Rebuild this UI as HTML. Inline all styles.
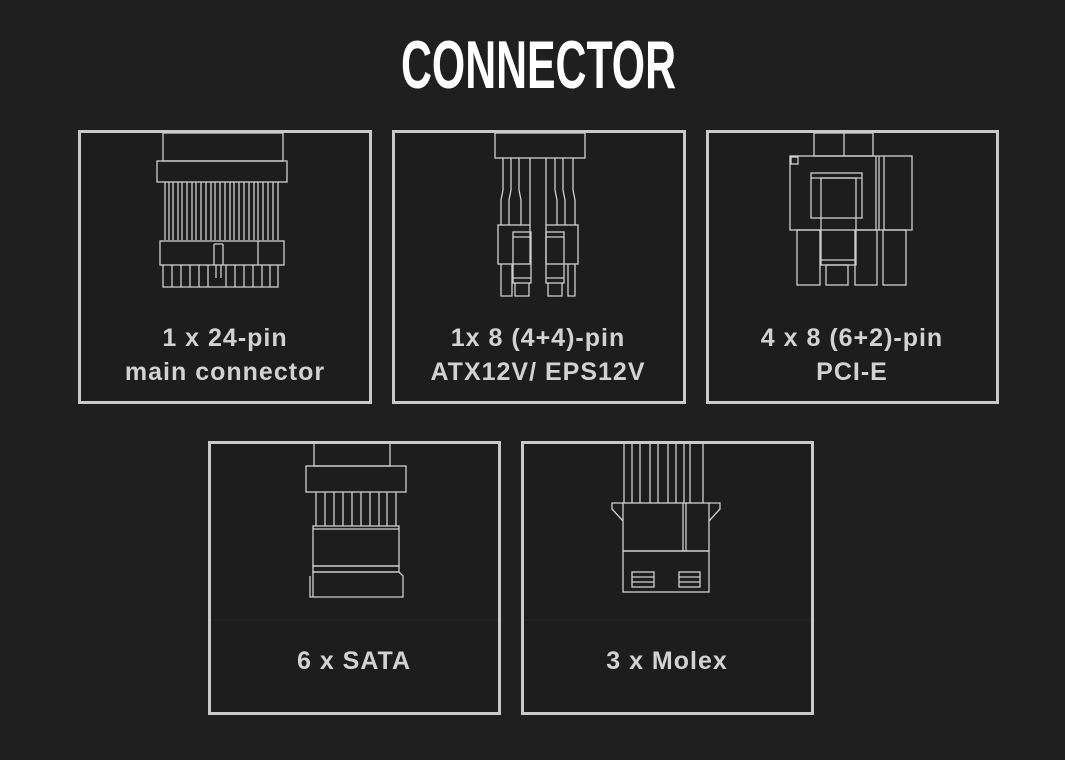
<!DOCTYPE html>
<html><head><meta charset="utf-8"><style>
html,body{margin:0;padding:0;background:#1f1f1f;}
svg{display:block;}
.b{fill:#1d1d1d;stroke:#c9c9c9;stroke-width:3;}
.d{fill:none;stroke:#cfcfcf;stroke-width:1.3;}
.l{font-family:"Liberation Sans",sans-serif;font-weight:bold;font-size:25px;letter-spacing:1px;fill:#d2d2d2;text-anchor:middle;}
</style></head><body>
<svg width="1065" height="760" viewBox="0 0 1065 760" xmlns="http://www.w3.org/2000/svg">
<rect width="1065" height="760" fill="#1f1f1f"/>
<text x="401" y="88" textLength="275" lengthAdjust="spacingAndGlyphs" font-family="Liberation Sans Narrow, Liberation Sans, sans-serif" font-weight="bold" font-size="68" fill="#fff">CONNECTOR</text>

<rect class="b" x="79.5" y="131.5" width="291" height="271"/>
<rect class="b" x="393.5" y="131.5" width="291" height="271"/>
<rect class="b" x="707.5" y="131.5" width="290" height="271"/>
<rect class="b" x="209.5" y="442.5" width="290" height="271"/>
<rect class="b" x="522.5" y="442.5" width="290" height="271"/>
<line x1="211" y1="620" x2="498" y2="620" stroke="#262626"/>
<line x1="524" y1="620" x2="811" y2="620" stroke="#262626"/>

<!-- 24 pin -->
<g class="d">
<rect x="163" y="133" width="120" height="28"/>
<rect x="157" y="161" width="130" height="21"/>
<path d="M165 182V240M169 182V240M173 182V240M178 182V240M182 182V240M187 182V240M192 182V240M196 182V240M201 182V240M206 182V240M211 182V240M215 182V240M220 182V240M225 182V240M230 182V240M234 182V240M239 182V240M244 182V240M249 182V240M254 182V240M258 182V240M263 182V240M268 182V240M273 182V240M278 182V240"/>
<rect x="160" y="241" width="124" height="24"/>
<path d="M258 241V265M214 244V265M223 244V265M214 244H223M216 265V278M221 265V278"/>
<path d="M163 265V287H278V265M172 265V287M181 265V287M190 265V287M199 265V287M208 265V287M226 265V287M235 265V287M244 265V287M253 265V287M262 265V287M270 265V287"/>
</g>

<!-- 8 pin -->
<g class="d">
<rect x="495" y="133" width="90" height="25"/>
<path d="M503 158V190L501 200V225M511 158V190L509 200V225M519 158V190L521 200V225M530 158V190L530 200V225M546 158V190L546 200V225M555 158V190L557 200V225M563 158V190L565 200V225M573 158V190L575 200V225"/>
<rect x="498" y="225" width="32" height="39"/>
<rect x="513" y="232" width="18" height="51"/>
<path d="M513 237H531M513 278H531M501 264V296H512V264M515 283V296H529V283"/>
<rect x="546" y="225" width="32" height="39"/>
<rect x="546" y="232" width="18" height="51"/>
<path d="M546 237H564M546 278H564M568 264V296H575V264M548 283V296H562V283"/>
</g>

<!-- PCI-E -->
<g class="d">
<rect x="814" y="133" width="59" height="23"/>
<path d="M844 133V156"/>
<rect x="790" y="156" width="122" height="74"/>
<rect x="791" y="157" width="7" height="7"/>
<path d="M876 156V230M879 156V230M884 156V230"/>
<rect x="811" y="173" width="51" height="45"/>
<path d="M811 178H862"/>
<rect x="821" y="178" width="35" height="87"/>
<path d="M821 260H856"/>
<rect x="797" y="230" width="23" height="55"/>
<rect x="826" y="265" width="22" height="20"/>
<rect x="855" y="230" width="22" height="55"/>
<rect x="883" y="230" width="23" height="55"/>
</g>

<!-- SATA -->
<g class="d">
<rect x="314" y="442" width="76" height="24"/>
<rect x="306" y="466" width="100" height="26"/>
<path d="M316 492V526M325 492V526M334 492V526M343 492V526M352 492V526M361 492V526M370 492V526M379 492V526M387 492V526M396 492V526"/>
<rect x="313" y="526" width="86" height="40"/>
<path d="M313 529H399"/>
<rect x="313" y="566" width="86" height="6"/>
<path d="M310 576V597H403V576L399 572H313V597"/>
</g>

<!-- Molex -->
<g class="d">
<path d="M624 442V503M632 442V503M640 442V503M650 442V503M658 442V503M668 442V503M676 442V503M684 442V503M690 442V503M703 442V503"/>
<rect x="623" y="503" width="86" height="48"/>
<path d="M623 503H612V509L623 521M709 503H720V509L709 521M683 503V551M686 503V551"/>
<rect x="623" y="551" width="86" height="41"/>
<rect x="632" y="572" width="22" height="15"/>
<path d="M632 577H654M632 582H654"/>
<rect x="679" y="572" width="21" height="15"/>
<path d="M679 577H700M679 582H700"/>
</g>

<text class="l" x="225" y="346">1 x 24-pin</text>
<text class="l" x="225" y="380">main connector</text>
<text class="l" x="538" y="346">1x 8 (4+4)-pin</text>
<text class="l" x="538" y="380">ATX12V/ EPS12V</text>
<text class="l" x="852" y="346">4 x 8 (6+2)-pin</text>
<text class="l" x="852" y="380">PCI-E</text>
<text class="l" x="354" y="669">6 x SATA</text>
<text class="l" x="667" y="669">3 x Molex</text>
</svg>
</body></html>
